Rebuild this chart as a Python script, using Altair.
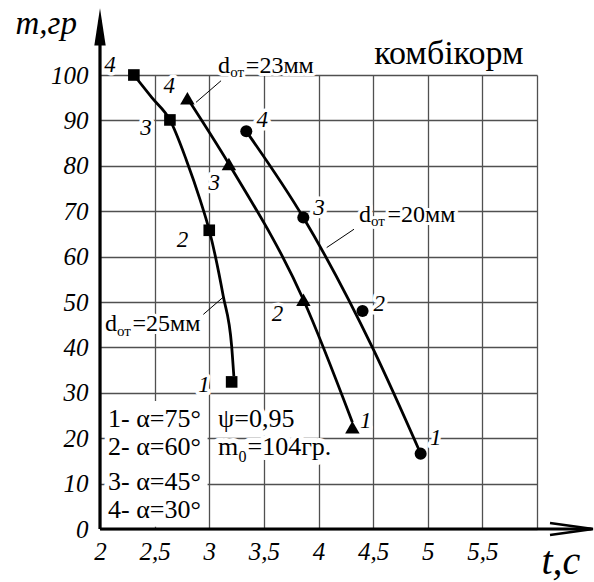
import altair as alt
import pandas as pd

# ---------------- data (t in s, m in g) ----------------
point_numbers = ["4", "3", "2", "1"]

square_t = [2.31, 2.64, 3.00, 3.205]
square_m = [100.0, 90.1, 65.8, 32.4]
triangle_t = [2.80, 3.18, 3.862, 4.31]
triangle_m = [94.9, 80.4, 50.5, 22.4]
circle_t = [3.339, 3.861, 4.403, 4.935]
circle_m = [87.6, 68.6, 48.0, 16.6]

# fitted curves
square_curve_t = [2.31, 2.475, 2.64, 2.79, 2.915, 3.00, 3.128, 3.205, 3.225]
square_curve_m = [100.0, 95.0, 90.1, 81.3, 72.6, 65.8, 51.3, 40.3, 33.7]
triangle_curve_t = [2.80, 3.18, 3.862, 4.31]
triangle_curve_m = [94.9, 80.4, 50.5, 23.5]
circle_curve_t = [3.339, 3.861, 4.502, 4.935]
circle_curve_m = [87.6, 68.6, 39.55, 16.6]

# point number label anchors
square_label_t = [2.092, 2.42, 2.755, 2.952]
square_label_m = [102.2, 88.4, 63.7, 31.8]
triangle_label_t = [2.633, 3.045, 3.624, 4.433]
triangle_label_m = [97.6, 76.3, 47.3, 23.7]
circle_label_t = [3.486, 4.005, 4.555, 5.074]
circle_label_m = [90.1, 70.6, 49.5, 20.1]

# axis ticks
x_ticks = [2, 2.5, 3, 3.5, 4, 4.5, 5, 5.5, 6]
x_tick_labels = ["2", "2,5", "3", "3,5", "4", "4,5", "5", "5,5", ""]
y_ticks = [0, 10, 20, 30, 40, 50, 60, 70, 80, 90, 100]
y_tick_labels = [str(v) for v in y_ticks]

# texts
title_text = "комбікорм"
title_t, title_m = [4.51], [102.4]
x_title = "t,c"
y_title = "m,гр"

# d_от annotations: main "d", subscript "от", rest
d_main = ["d", "d", "d"]
d_sub = ["от", "от", "от"]
d_rest = ["=23мм", "=20мм", "=25мм"]
d_t = [3.080, 4.371, 2.046]
d_m = [100.44, 67.64, 43.6]
d_sub_t = [3.192, 4.481, 2.156]
d_sub_m = [99.5, 66.7, 42.5]
d_rest_t = [3.335, 4.632, 2.298]
# leader lines
lead_t = [3.108, 4.325, 2.946]
lead_m = [98.74, 66.03, 47.27]
lead_t2 = [2.879, 4.075, 3.129]
lead_m2 = [93.98, 61.99, 51.09]

# legend block
legend_rows = ["1- α=75°", "2- α=60°", "3- α=45°", "4- α=30°"]
legend_rows_t = [2.073, 2.073, 2.073, 2.073]
legend_rows_m = [22.57, 16.4, 8.67, 2.49]
legend_col2 = ["ψ=0,95", "m", "=104гр."]
legend_col2_t = [3.080, 3.080, 3.350]
legend_col2_m = [22.57, 16.4, 16.4]
legend_sub = ["0"]
legend_sub_t = [3.268]
legend_sub_m = [14.8]
legend_box_t, legend_box_t2 = [2.075], [2.985]
legend_box_m, legend_box_m2 = [0.5], [28.2]

# axis lines with arrows
axis_t, axis_m, axis_t2, axis_m2 = [2, 2], [0, 0], [2, 6.50], [112.0, 0]
x_arrow_t, x_arrow_m = [6.119, 6.119], [1.32, -1.32]
x_arrow_t2, x_arrow_m2 = [6.513, 6.513], [0, 0]
y_arrow_t, y_arrow_m, y_arrow_base = [1.948, 2.0, 2.052], [106.5, 114.7, 106.5], 106.5

# ---------------- chart ----------------
SERIF = "'Liberation Serif', 'Times New Roman', 'DejaVu Serif', serif"
XS = alt.Scale(domain=[2, 6], nice=False, zero=False)
YS = alt.Scale(domain=[0, 100], nice=False, zero=False)


def lookup_expr(values, labels):
    arr = "[" + ",".join("'" + l + "'" for l in labels) + "]"
    vals = "[" + ",".join(str(v) for v in values) + "]"
    return arr + "[indexof(" + vals + ", datum.value)]"


x_axis = alt.Axis(
    values=x_ticks, labelExpr=lookup_expr(x_ticks, x_tick_labels),
    grid=True, gridColor="#505050", gridWidth=1.3, domain=False, ticks=False,
    labelFont=SERIF, labelFontStyle="italic", labelFontSize=25, labelColor="black",
    labelPadding=10, labelFlush=False, labelOverlap=False,
    title=x_title, titleFont=SERIF, titleFontStyle="italic", titleFontWeight="normal",
    titleFontSize=40, titleColor="black", titleX=441, titleY=44,
    titleAlign="left", titleBaseline="alphabetic", titleAnchor="start",
)
y_axis = alt.Axis(
    values=y_ticks, labelExpr=lookup_expr(y_ticks, y_tick_labels),
    grid=True, gridColor="#505050", gridWidth=1.3, domain=False, ticks=False,
    labelFont=SERIF, labelFontStyle="italic", labelFontSize=25, labelColor="black",
    labelPadding=12, labelFlush=False, labelOverlap=False,
    title=y_title, titleFont=SERIF, titleFontStyle="italic", titleFontWeight="normal",
    titleFontSize=33, titleColor="black", titleAngle=0, titleX=-85, titleY=-42,
    titleAlign="left", titleBaseline="alphabetic", titleAnchor="start",
)

XE = alt.X("t:Q", scale=XS, axis=x_axis)
YE = alt.Y("m:Q", scale=YS, axis=y_axis)


def df(t, m, **extra):
    d = {"t": t, "m": m}
    d.update(extra)
    return pd.DataFrame(d)


halos = []
texts = []


def add_text(data, size, style="normal", halo=0, align="center", baseline="middle"):
    enc = dict(x=XE, y=YE, text="label:N")
    if halo:
        halos.append(alt.Chart(data).mark_text(
            font=SERIF, fontSize=size, fontStyle=style, align=align, baseline=baseline,
            color="white", stroke="white", strokeWidth=halo, strokeJoin="round").encode(**enc))
    texts.append(alt.Chart(data).mark_text(
        font=SERIF, fontSize=size, fontStyle=style, align=align, baseline=baseline,
        color="black").encode(**enc))


# point numbers
for lt, lm in [(square_label_t, square_label_m), (triangle_label_t, triangle_label_m),
               (circle_label_t, circle_label_m)]:
    add_text(df(lt, lm, label=point_numbers), 23, "italic", halo=7)

# title
add_text(df(title_t, title_m, label=[title_text]), 34, halo=6, align="left", baseline="alphabetic")

# d annotations
add_text(df(d_t, d_m, label=d_main), 24, halo=6, align="left", baseline="alphabetic")
add_text(df(d_sub_t, d_sub_m, label=d_sub), 15, halo=6, align="left", baseline="alphabetic")
add_text(df(d_rest_t, d_m, label=d_rest), 24, halo=6, align="left", baseline="alphabetic")

# legend block
add_text(df(legend_rows_t, legend_rows_m, label=legend_rows), 26, halo=10, align="left", baseline="alphabetic")
add_text(df(legend_col2_t, legend_col2_m, label=legend_col2), 26, halo=10, align="left", baseline="alphabetic")
add_text(df(legend_sub_t, legend_sub_m, label=legend_sub), 16, halo=6, align="left", baseline="alphabetic")

legend_box = alt.Chart(pd.DataFrame({"t": legend_box_t, "t2": legend_box_t2,
                                     "m": legend_box_m, "m2": legend_box_m2})).mark_rect(
    color="white").encode(x=XE, x2="t2:Q", y=YE, y2="m2:Q")

leaders = alt.Chart(pd.DataFrame({"t": lead_t, "m": lead_m, "t2": lead_t2, "m2": lead_m2})).mark_rule(
    color="black", strokeWidth=1).encode(x=XE, y=YE, x2="t2:Q", y2="m2:Q")

curves = [
    alt.Chart(df(ct, cm)).mark_line(color="black", strokeWidth=2.8, interpolate="monotone").encode(x=XE, y=YE)
    for ct, cm in [(square_curve_t, square_curve_m), (triangle_curve_t, triangle_curve_m),
                   (circle_curve_t, circle_curve_m)]
]

axes_lines = alt.Chart(pd.DataFrame({"t": axis_t, "m": axis_m, "t2": axis_t2, "m2": axis_m2})).mark_rule(
    color="black", strokeWidth=3.2).encode(x=XE, y=YE, x2="t2:Q", y2="m2:Q")
x_arrow = alt.Chart(pd.DataFrame({"t": x_arrow_t, "m": x_arrow_m, "t2": x_arrow_t2, "m2": x_arrow_m2})).mark_rule(
    color="black", strokeWidth=2.4).encode(x=XE, y=YE, x2="t2:Q", y2="m2:Q")
y_arrow = alt.Chart(pd.DataFrame({"t": y_arrow_t, "m": y_arrow_m,
                                  "m2": [y_arrow_base] * len(y_arrow_t)})).mark_area(
    color="black", opacity=1).encode(x=XE, y=YE, y2="m2:Q")

markers = [
    alt.Chart(df(square_t, square_m)).mark_point(shape="square", filled=True, color="black",
                                                 opacity=1, size=135).encode(x=XE, y=YE),
    alt.Chart(df(triangle_t, triangle_m)).mark_point(shape="triangle-up", filled=True, color="black",
                                                     opacity=1, size=210).encode(x=XE, y=YE),
    alt.Chart(df(circle_t, circle_m)).mark_point(shape="circle", filled=True, color="black",
                                                 opacity=1, size=145).encode(x=XE, y=YE),
]

chart = alt.layer(
    legend_box, *halos, leaders, *curves, axes_lines, x_arrow, y_arrow, *markers, *texts
).properties(
    width=437, height=454,
    padding={"left": 100, "top": 75, "right": 57, "bottom": 53},
    autosize=alt.AutoSizeParams(type="none"),
    background="white",
).configure_view(stroke=None)

chart.save("out.html", embed_options={"renderer": "svg", "actions": False})
